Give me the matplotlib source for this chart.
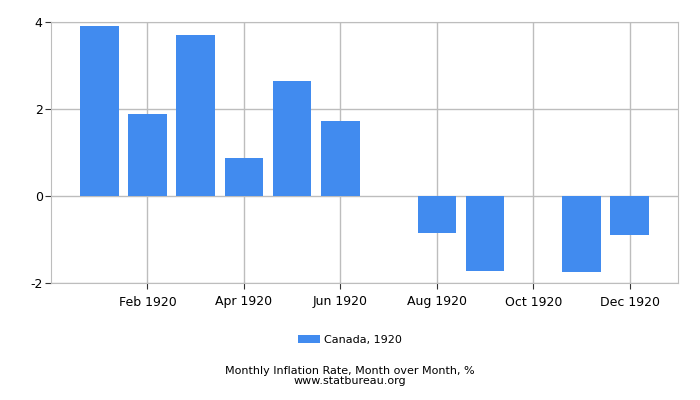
import matplotlib.pyplot as plt
import numpy as np

plt.rcParams["axes.unicode_minus"] = False

# monthly inflation, Canada 1920
months = ["Jan", "Feb", "Mar", "Apr", "May", "Jun",
          "Jul", "Aug", "Sep", "Oct", "Nov", "Dec"]
values = [3.91, 1.89, 3.70, 0.87, 2.64, 1.72,
          0.0, -0.84, -1.72, 0.0, -1.75, -0.89]
tick_months = [1, 3, 5, 7, 9, 11]
tick_labels = ["Feb 1920", "Apr 1920", "Jun 1920",
               "Aug 1920", "Oct 1920", "Dec 1920"]

bar_color = "#418BEF"
grid_color = "#BDBDBD"

fig = plt.figure(figsize=(7, 4), dpi=100)
ax = fig.add_axes([51 / 700, 1 - 283 / 400, 627 / 700, 261 / 400])

x = np.arange(len(months))
ax.bar(x, values, width=0.8, color=bar_color, label="Canada, 1920", zorder=2)

ax.set_xlim(-1, 12)
ax.set_ylim(-2, 4)
ax.set_yticks([-2, 0, 2, 4])
ax.set_xticks(tick_months)
ax.set_xticklabels(tick_labels)

ax.grid(True, color=grid_color, linewidth=1, zorder=0)
for s in ax.spines.values():
    s.set_color(grid_color)
ax.tick_params(axis="both", labelsize=9, color="#333333", length=4)
ax.tick_params(axis="y", pad=2)
ax.tick_params(axis="x", pad=5)

fig.legend(loc="center", bbox_to_anchor=(0.5, 1 - 340 / 400), frameon=False,
           fontsize=8, handlelength=2.0, handleheight=0.8, handletextpad=0.4)
fig.text(0.5, 1 - 371 / 400, "Monthly Inflation Rate, Month over Month, %",
         ha="center", va="center", fontsize=8)
fig.text(0.5, 1 - 381 / 400, "www.statbureau.org",
         ha="center", va="center", fontsize=8)

fig.savefig("out.png", dpi=100)
